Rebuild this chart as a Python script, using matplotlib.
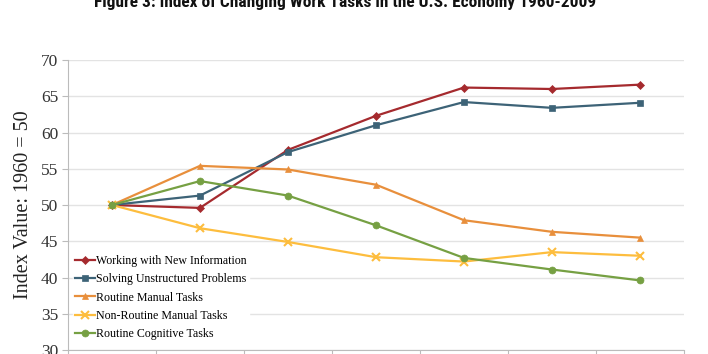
import matplotlib.pyplot as plt
import numpy as np

# Data (index, 1960 = 50)
years = ['1960', '1970', '1980', '1990', '2000', '2006', '2009']
new_info = [50.0, 49.6, 57.6, 62.3, 66.2, 66.0, 66.6]
unstructured = [50.0, 51.3, 57.3, 61.0, 64.2, 63.4, 64.1]
routine_manual = [50.0, 55.4, 54.9, 52.8, 47.9, 46.3, 45.5]
nonroutine_manual = [50.0, 46.8, 44.9, 42.8, 42.2, 43.5, 43.0]
routine_cognitive = [50.0, 53.3, 51.3, 47.2, 42.7, 41.1, 39.6]

labels = ['Working with New Information', 'Solving Unstructured Problems',
          'Routine Manual Tasks', 'Non-Routine Manual Tasks',
          'Routine Cognitive Tasks']
colors = ['#A52A2E', '#3D6377', '#E88F3C', '#FDBD3E', '#76A043']
markers = ['D', 's', '^', 'x', 'o']
msizes = [4, 4.5, 5, 6, 5]
series = [new_info, unstructured, routine_manual, nonroutine_manual, routine_cognitive]

serif = 'Liberation Serif'

fig = plt.figure(figsize=(7.08, 3.54), dpi=100)
ax = fig.add_axes([0.096, 0.0113, 0.87, 0.8192])

x = np.arange(len(years))
for vals, lab, c, m, ms in zip(series, labels, colors, markers, msizes):
    ax.plot(x, vals, color=c, lw=1.6, marker=m, ms=ms, mew=1.5 if m == 'x' else 0.5,
            mec=c, mfc=c, label=lab, zorder=3)

ax.set_ylim(30, 70)
ax.set_yticks(np.arange(30, 71, 5))
ax.set_xlim(-0.5, len(years) - 0.5)
ax.set_xticks(np.arange(-0.5, len(years), 1.0))
ax.set_xticklabels([])
ax.grid(axis='y', color='#e3e3e3', lw=1, zorder=0)
ax.tick_params(axis='y', length=4, color='#bbbbbb', labelsize=12.5, pad=3)
ax.tick_params(axis='x', length=5, color='#bbbbbb', direction='out')
for lbl in ax.get_yticklabels():
    lbl.set_family(serif)
    lbl.set_color('#333333')
for s in ['top', 'right']:
    ax.spines[s].set_visible(False)
for s in ['left', 'bottom']:
    ax.spines[s].set_color('#bbbbbb')

ax.set_ylabel('Index Value: 1960 = 50', family=serif, fontsize=14.5, color='#222222', labelpad=6)

leg = ax.legend(loc='upper left', bbox_to_anchor=(0.008, 0.335), frameon=True, framealpha=1,
                edgecolor='white', facecolor='white', handlelength=1.65, handletextpad=0.05,
                labelspacing=0.52, borderpad=0.2, borderaxespad=0,
                prop={'family': serif, 'size': 8.6})
leg.set_zorder(5)

fig.text(0.487, 0.972, 'Figure 3: Index of Changing Work Tasks in the U.S. Economy 1960-2009',
         ha='center', va='bottom', fontsize=12.5, fontweight='bold', fontstretch='condensed',
         family=['Roboto Condensed', 'Open Sans Condensed', 'Noto Sans Condensed',
                 'Liberation Sans Narrow', 'DejaVu Sans'], color='#111111')

fig.savefig('out.png', dpi=100)
